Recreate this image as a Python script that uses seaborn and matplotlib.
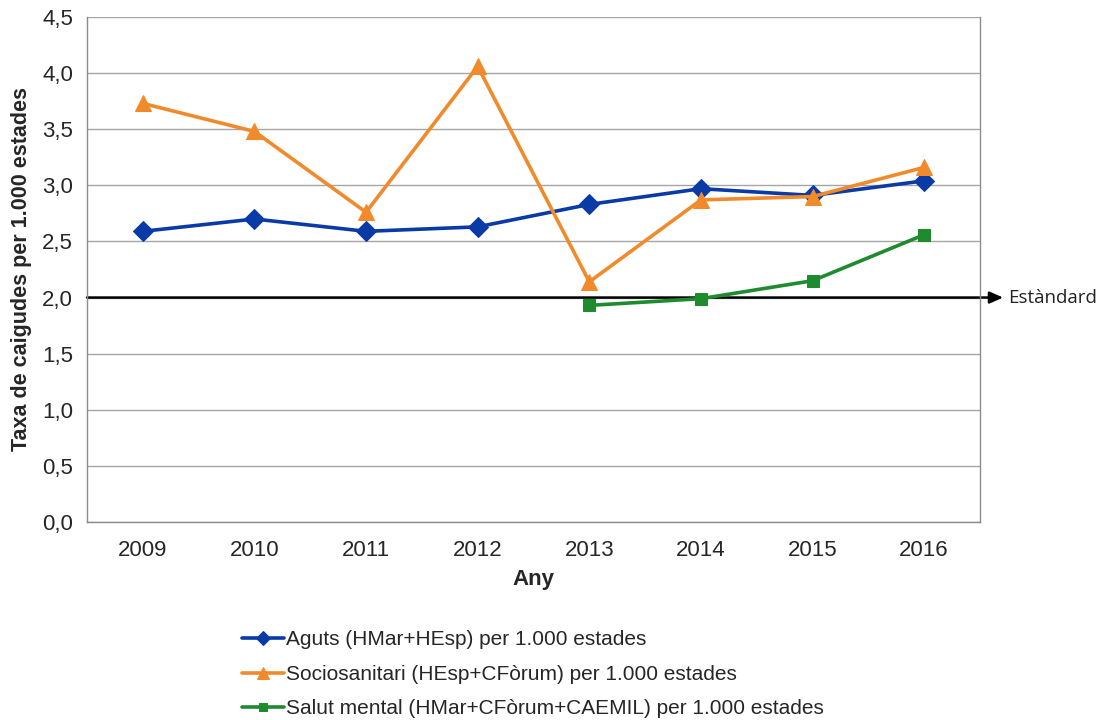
import matplotlib
matplotlib.use("Agg")
import matplotlib.pyplot as plt
import matplotlib.transforms as mtransforms
import seaborn as sns
import pandas as pd
import numpy as np

years = [2009, 2010, 2011, 2012, 2013, 2014, 2015, 2016]
aguts = [2.59, 2.70, 2.59, 2.63, 2.83, 2.97, 2.91, 3.04]
socio = [3.73, 3.48, 2.76, 4.06, 2.14, 2.87, 2.90, 3.16]
salut_years = [2013, 2014, 2015, 2016]
salut = [1.93, 1.99, 2.15, 2.56]
standard = 2.0

labels = ["Aguts (HMar+HEsp) per 1.000 estades",
          "Sociosanitari (HEsp+CFòrum) per 1.000 estades",
          "Salut mental (HMar+CFòrum+CAEMIL) per 1.000 estades"]
yticks = [0.0, 0.5, 1.0, 1.5, 2.0, 2.5, 3.0, 3.5, 4.0, 4.5]

sns.set_style("white")
plt.rcParams["font.family"] = ["Liberation Sans", "DejaVu Sans"]

df = pd.concat([
    pd.DataFrame({"Any": years, "val": aguts, "serie": labels[0]}),
    pd.DataFrame({"Any": years, "val": socio, "serie": labels[1]}),
    pd.DataFrame({"Any": salut_years, "val": salut, "serie": labels[2]}),
])

colors = ["#0a3aa6", "#f08a2a", "#1f8b2f"]
markers = ["D", "^", "s"]
msizes = [10, 12, 9]

fig = plt.figure(figsize=(11, 7.2), dpi=100)
ax = fig.add_axes([0.0791, 0.275, 0.8118, 0.7014])

for lab, c, m, ms in zip(labels, colors, markers, msizes):
    sub = df[df["serie"] == lab]
    sns.lineplot(data=sub, x="Any", y="val", ax=ax, color=c, marker=m,
                 markersize=ms, markeredgecolor=c, linewidth=2.6, label=lab,
                 zorder=3)

ax.set_xlim(years[0] - 0.5, years[-1] + 0.5)
ax.set_ylim(yticks[0], yticks[-1])
ax.set_yticks(yticks)
ax.set_yticklabels([f"{v:.1f}".replace(".", ",") for v in yticks], fontsize=16)
ax.set_xticks(years)
ax.set_xticklabels([str(y) for y in years], fontsize=16)
ax.set_xticks(np.arange(years[0] - 0.5, years[-1] + 1.0, 1.0), minor=True)
ax.tick_params(axis="x", which="major", length=0, pad=13)
ax.tick_params(axis="x", which="minor", length=6, color="#8c8c8c", width=1, direction="out")
ax.tick_params(axis="y", which="major", length=6, color="#8c8c8c", width=1, direction="out", pad=4)
ax.grid(axis="y", color="#a6a6a6", linewidth=1)
ax.set_axisbelow(True)
for s in ["left", "bottom", "right"]:
    ax.spines[s].set_visible(True)
    ax.spines[s].set_color("#8c8c8c")
    ax.spines[s].set_linewidth(1)
ax.spines["top"].set_visible(False)

ax.set_xlabel("Any", fontsize=16, fontweight="bold", labelpad=6)
ax.set_ylabel("Taxa de caigudes per 1.000 estades", fontsize=15.5, fontweight="bold", labelpad=7)

trans = mtransforms.blended_transform_factory(ax.transAxes, ax.transData)
ax.annotate("", xy=(1.026, standard), xycoords=trans,
            xytext=(0.0, standard), textcoords=trans,
            arrowprops=dict(arrowstyle="-|>,head_length=0.8,head_width=0.35",
                            color="black", lw=1.8, shrinkA=0, shrinkB=0),
            annotation_clip=False, zorder=2)
ax.text(1.031, standard, "Estàndard", transform=trans, fontsize=13.5,
        family=["Open Sans", "DejaVu Sans"], va="center", ha="left", color="#222222")

leg = ax.legend(loc="upper left", bbox_to_anchor=(0.207, 0.145),
                bbox_transform=fig.transFigure, frameon=False, fontsize=15,
                handlelength=2.0, handletextpad=0.1, labelspacing=0.75,
                markerscale=0.7, borderpad=0.2)

fig.savefig("out.png", dpi=100)
